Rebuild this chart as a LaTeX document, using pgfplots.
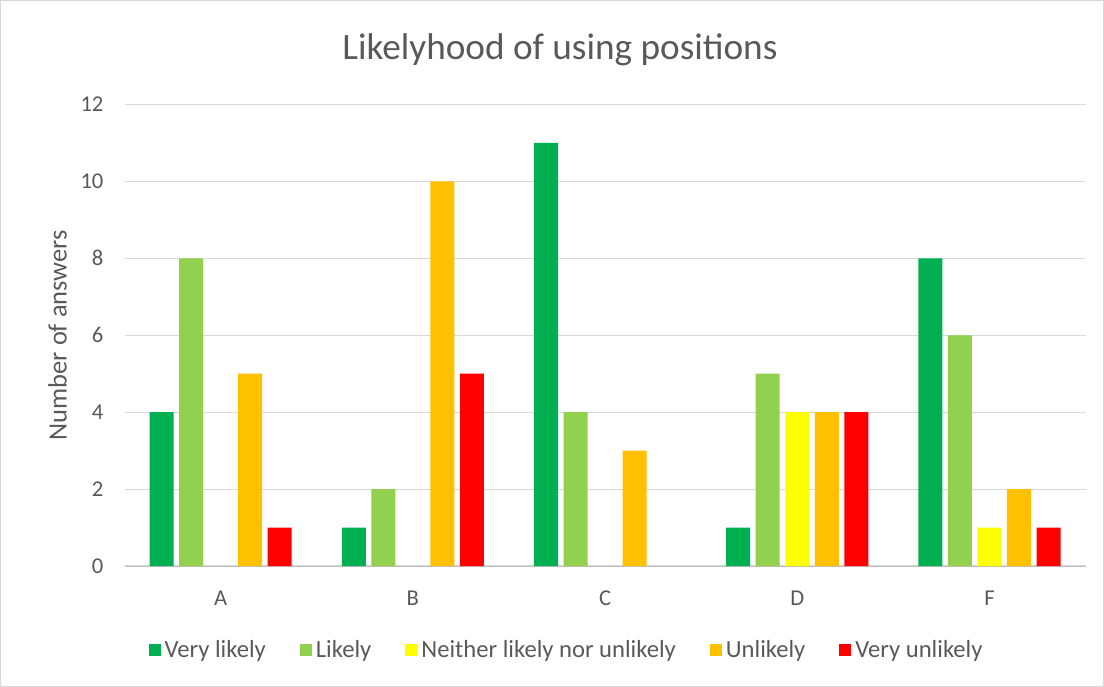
\documentclass[border=0pt]{standalone}
\usepackage{pgfplots}
\pgfplotsset{compat=1.18}
\usepackage{fontspec}
\setmainfont{Carlito}
\definecolor{vl}{HTML}{00B050}
\definecolor{li}{HTML}{92D050}
\definecolor{ne}{HTML}{FFFF00}
\definecolor{un}{HTML}{FFC000}
\definecolor{vu}{HTML}{FF0000}
\definecolor{txt}{HTML}{595959}
\definecolor{gridc}{HTML}{D9D9D9}
\definecolor{axc}{HTML}{BFBFBF}
\begin{document}
\begin{tikzpicture}
\begin{axis}[
  name=ax, at={(0pt,0pt)}, anchor=south west, scale only axis,
  width=480pt, height=230.5pt,
  ybar=2.75pt, bar width=12pt,
  ymin=0, ymax=12, ytick={0,2,...,12},
  xmin=-0.5, xmax=4.5, xtick={0,...,4}, xticklabels={A,B,C,D,F},
  axis x line*=bottom, axis y line*=left,
  y axis line style={draw=none}, x axis line style={draw=axc,-},
  major tick length=0pt,
  ymajorgrids, grid style={draw=gridc, line width=0.6pt},
  /pgf/number format/assume math mode=true,
  tick label style={font=\fontsize{11.3}{13}\selectfont, text=txt},
  yticklabel style={xshift=-7pt},
  xticklabel style={yshift=-9pt},
  ylabel={Number of answers},
  ylabel style={font=\fontsize{13.2}{15}\selectfont, text=txt, at={(axis description cs:-0.0698,0.5)}, anchor=center},
  legend columns=5,
  legend style={draw=none, fill=none, font=\fontsize{12.3}{14}\selectfont, text=txt,
    at={(0.461,-0.182)}, anchor=center,
    /tikz/every even column/.append style={column sep=15pt}},
  legend image code/.code={\fill[#1] (0pt,-3pt) rectangle (6pt,3pt);},
]
\addplot[fill=vl, draw=none] coordinates {(0,4) (1,1) (2,11) (3,1) (4,8)};
\addplot[fill=li, draw=none] coordinates {(0,8) (1,2) (2,4) (3,5) (4,6)};
\addplot[fill=ne, draw=none] coordinates {(3,4) (4,1)};
\addplot[fill=un, draw=none] coordinates {(0,5) (1,10) (2,3) (3,4) (4,2)};
\addplot[fill=vu, draw=none] coordinates {(0,1) (1,5) (3,4) (4,1)};
\legend{Very likely, Likely, Neither likely nor unlikely, Unlikely, Very unlikely}
\end{axis}
\draw[color=gridc] (-62pt,-60pt) rectangle (489pt,282.5pt);
\node[font=\fontsize{18.6}{22}\selectfont, text=txt] at (217.5pt,258pt) {Likelyhood of using positions};
\end{tikzpicture}
\end{document}
